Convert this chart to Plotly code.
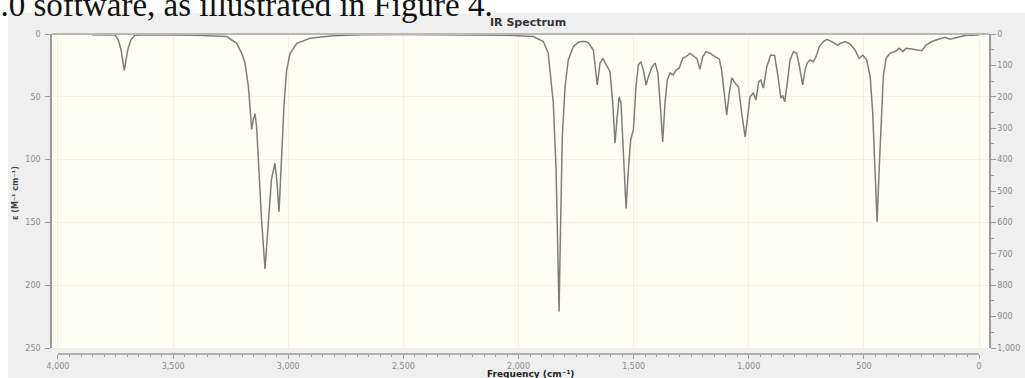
import plotly.graph_objects as go

# Frequency (cm^-1) and molar absorptivity epsilon (M^-1 cm^-1)
freq = [3854, 3800, 3752, 3738, 3726, 3712, 3697, 3684, 3666, 3600, 3500, 3400,
        3267, 3224, 3202, 3188, 3173, 3166, 3159, 3152, 3144, 3137, 3130, 3116,
        3101, 3087, 3073, 3058, 3049, 3040, 3029, 3018, 3007, 2992, 2963, 2905,
        2806, 2688, 2500, 2200, 2050, 1936, 1892, 1871, 1856, 1849, 1837, 1830,
        1824, 1817, 1810, 1798, 1784, 1762, 1740, 1726, 1710, 1697, 1675, 1658,
        1646, 1634, 1614, 1603, 1591, 1581, 1573, 1563, 1555, 1545, 1533, 1523,
        1513, 1501, 1490, 1480, 1469, 1458, 1446, 1436, 1422, 1407, 1395, 1385,
        1374, 1364, 1354, 1342, 1328, 1316, 1302, 1287, 1273, 1255, 1241, 1226,
        1212, 1200, 1186, 1168, 1147, 1128, 1118, 1107, 1096, 1085, 1074, 1060,
        1045, 1031, 1016, 1005, 995, 980, 969, 957, 948, 937, 922, 905,
        888, 874, 861, 853, 844, 833, 821, 806, 792, 780, 766, 756,
        746, 734, 720, 708, 694, 676, 661, 640, 615, 601, 582, 560,
        539, 521, 505, 488, 473, 462, 452, 443, 434, 426, 416, 404,
        387, 365, 346, 331, 317, 292, 271, 249, 230, 205, 177, 148,
        126, 97, 75, 53, 25, 0]
epsilon = [0.5, 0.6, 0.8, 4.8, 12.7, 29, 12.7, 4.8, 1.0, 0.6, 0.8, 1.0,
           2, 7.4, 15.4, 23, 42, 58, 76, 68, 63.5, 75, 100, 148,
           187, 148, 116, 103, 118, 141.5, 100, 55, 28.7, 15.4, 7.4, 3.4,
           1.3, 0.5, 0.3, 0.5, 1.0, 2, 6, 15.4, 42, 55, 108, 180,
           221, 148, 82, 42, 20.7, 10, 6.5, 6, 6, 6.9, 12.7, 40.6,
           23, 19.4, 26, 30, 55, 87, 68.5, 50, 55, 95, 139, 108,
           84, 76, 42, 24.7, 22, 28.7, 40.6, 34, 27, 23, 31, 55,
           86, 55, 36.6, 31, 32.6, 28.7, 27, 19.4, 18, 15.4, 17.5, 19.4,
           28, 18, 14, 15.4, 18, 20, 28.7, 47, 64.5, 47, 35, 39,
           42, 63, 82, 66, 50, 47, 52.5, 38, 36.6, 43, 26, 16.7,
           17, 33, 51, 49, 54, 39, 20.7, 14, 15.4, 26, 40.6, 28.7,
           23, 20.7, 22, 18, 10, 6, 4.2, 6, 8.8, 7.4, 6, 8,
           12.7, 19.4, 16.7, 20.7, 34, 63, 108, 149.5, 108, 68.5, 34, 19.4,
           15.4, 14, 11.4, 14, 11.4, 12, 12.7, 13.3, 8.8, 6, 4.2, 2.6,
           4.2, 2.6, 2, 0.8, 1, 0.5]

x_ticks = [4000, 3500, 3000, 2500, 2000, 1500, 1000, 500, 0]
y_ticks = [0, 50, 100, 150, 200, 250]
y2_ticks = [0, 100, 200, 300, 400, 500, 600, 700, 800, 900, 1000]

W, H = 1025, 378
L, R, T, B = 52, 36, 34, 24
PW, PH = W - L - R, H - T - B


def px(X):
    return (X - L) / PW


def py(Y):
    return (H - B - Y) / PH


tick_font = dict(family="DejaVu Sans", size=8, color="#8a8a8a")
axis_col = "#9a9a9a"
grid_col = "#f4f0e2"

fig = go.Figure()
fig.add_trace(go.Scatter(x=freq, y=epsilon, mode="lines",
                         line=dict(color="#7d7d7d", width=1.5),
                         showlegend=False, hoverinfo="skip"))
fig.add_trace(go.Scatter(x=[], y=[], yaxis="y2", showlegend=False))

fig.update_layout(
    width=W, height=H, autosize=False,
    margin=dict(l=L, r=R, t=T, b=B, pad=0),
    paper_bgcolor="#efefef", plot_bgcolor="#fffef6",
    xaxis=dict(range=[4026, -43], domain=[0, 1], anchor="free", position=0,
               tickvals=x_ticks, tickformat=",", ticks="outside", ticklen=4,
               tickcolor=axis_col, showline=False, showgrid=True,
               gridcolor=grid_col, zeroline=False, tickfont=tick_font,
               automargin=False,
               minor=dict(ticks="outside", ticklen=2, dtick=50, tick0=0,
                          tickcolor=axis_col, showgrid=False)),
    yaxis=dict(range=[250, 0], domain=[py(348), 1], anchor="x",
               tickvals=y_ticks, ticks="outside", ticklen=5, tickcolor=axis_col,
               showline=True, linecolor=axis_col, linewidth=1.5,
               showgrid=True, gridcolor=grid_col, zeroline=False,
               tickfont=tick_font, automargin=False, ticklabelstandoff=3),
    yaxis2=dict(range=[1000, 0], overlaying="y", side="right", anchor="x",
                tickvals=y2_ticks, tickformat=",", ticks="outside", ticklen=5,
                tickcolor=axis_col, showline=True, linecolor=axis_col,
                linewidth=1.5, showgrid=False, zeroline=False,
                tickfont=tick_font, automargin=False,
                minor=dict(ticks="outside", ticklen=3, dtick=50, tick0=0,
                           tickcolor=axis_col, showgrid=False)),
    shapes=[
        dict(type="line", xref="paper", yref="paper", x0=0, x1=1, y0=1, y1=1,
             line=dict(color="#b8b8b8", width=2)),
        dict(type="line", xref="x", yref="paper", x0=4000, x1=0, y0=0, y1=0,
             line=dict(color=axis_col, width=1.5)),
        dict(type="rect", xref="paper", yref="paper", x0=-0.1, x1=1.1,
             y0=py(13), y1=1.3, fillcolor="white", line=dict(width=0),
             layer="above"),
        dict(type="rect", xref="paper", yref="paper", x0=px(-5), x1=px(8),
             y0=-0.2, y1=1.3, fillcolor="white", line=dict(width=0),
             layer="above"),
    ],
    annotations=[
        dict(text="<b>IR Spectrum</b>", xref="paper", yref="paper",
             x=px(528), y=py(23), xanchor="center", yanchor="middle",
             showarrow=False, font=dict(family="DejaVu Sans", size=11, color="#333")),
        dict(text="<b>Frequency (cm⁻¹)</b>", xref="paper", yref="paper",
             x=px(530), y=py(374), xanchor="center", yanchor="middle",
             showarrow=False, font=dict(family="DejaVu Sans", size=9, color="#222")),
        dict(text="<b>ε (M⁻¹ cm⁻¹)</b>", xref="paper", yref="paper",
             x=px(15), y=py(193), xanchor="center", yanchor="middle",
             textangle=-90, showarrow=False,
             font=dict(family="DejaVu Sans", size=8, color="#444")),
        dict(text="6.0 software, as illustrated in Figure 4.", xref="paper",
             yref="paper", x=px(-18), y=py(25), xanchor="left", yanchor="bottom",
             showarrow=False,
             font=dict(family="Liberation Serif", size=33, color="#111")),
    ],
)

fig.write_html("out.html", config={"displayModeBar": False},
               post_script="document.body.style.margin='0';document.body.style.overflow='hidden';")
